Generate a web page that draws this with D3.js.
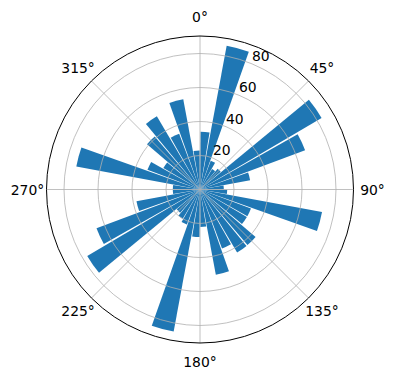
<!DOCTYPE html>
<html>
<head>
<meta charset="utf-8">
<script src="https://cdn.jsdelivr.net/npm/d3@7"></script>
<style>
  body { margin: 0; background: #fff; }
  svg text { font-family: "DejaVu Sans", sans-serif; font-size: 13.9px; fill: #000; }
</style>
</head>
<body>
<div id="chart"></div>
<script>
// Bar angles (degrees, clockwise from north) and bar heights
const angles = [5, 15, 25, 35, 45, 55, 65, 75, 85, 95, 105, 115,
                125, 135, 145, 155, 165, 175, 185, 195, 205, 215, 225, 235,
                245, 255, 265, 275, 285, 295, 305, 315, 325, 335, 345, 355]
const radii = [34, 86, 18, 14, 16, 83, 66, 30, 14, 16, 73, 32,
               32, 43, 43, 37, 51, 22, 28, 85, 22, 20, 18, 77,
               65, 38, 16, 16, 74, 33, 25, 41, 50, 35, 54, 23]
const radialTicks = [20, 40, 60, 80]
const angleTicks = [0, 45, 90, 135, 180, 225, 270, 315]

const width = 396, height = 380
const cx = 200, cy = 189.5
const outer = 153.5
const barWidth = 9 // degrees

const rad = d => d * Math.PI / 180

var svg = d3.select("#chart").append("svg")
    .attr("width", width)
    .attr("height", height)

var g = svg.append("g").attr("transform", "translate(" + cx + "," + cy + ")")

var r = d3.scaleLinear().domain([0, 90.3]).range([0, outer])

// bars
var arc = d3.arc()
    .innerRadius(0)
    .outerRadius(d => r(d.v))
    .startAngle(d => rad(d.a - barWidth / 2))
    .endAngle(d => rad(d.a + barWidth / 2))

g.selectAll("path.bar")
    .data(angles.map((a, i) => ({a: a, v: radii[i]})))
    .enter().append("path")
    .attr("class", "bar")
    .attr("fill", "#1f77b4")
    .attr("d", arc)

// grid drawn over the bars, like matplotlib
g.selectAll("circle.grid")
    .data(radialTicks)
    .enter().append("circle")
    .attr("class", "grid")
    .attr("r", d => r(d))
    .attr("fill", "none")
    .attr("stroke", "#b0b0b0")
    .attr("stroke-width", 0.8)

g.selectAll("line.spoke")
    .data(angleTicks)
    .enter().append("line")
    .attr("class", "spoke")
    .attr("x1", 0).attr("y1", 0)
    .attr("x2", d => outer * Math.sin(rad(d)))
    .attr("y2", d => -outer * Math.cos(rad(d)))
    .attr("stroke", "#b0b0b0")
    .attr("stroke-width", 0.8)

g.append("circle")
    .attr("r", outer)
    .attr("fill", "none")
    .attr("stroke", "#000")
    .attr("stroke-width", 1)

// angle labels
g.selectAll("text.alabel")
    .data(angleTicks)
    .enter().append("text")
    .attr("class", "alabel")
    .attr("x", d => (outer + 19) * Math.sin(rad(d)))
    .attr("y", d => -(outer + 19) * Math.cos(rad(d)))
    .attr("text-anchor", "middle")
    .attr("dominant-baseline", "central")
    .text(d => d + "°")

// radial labels at 22.5 degrees
g.selectAll("text.rlabel")
    .data(radialTicks)
    .enter().append("text")
    .attr("class", "rlabel")
    .attr("x", d => r(d) * Math.sin(rad(22.5)))
    .attr("y", d => -r(d) * Math.cos(rad(22.5)) - 3)
    .attr("text-anchor", "start")
    .text(d => d)
</script>
</body>
</html>
